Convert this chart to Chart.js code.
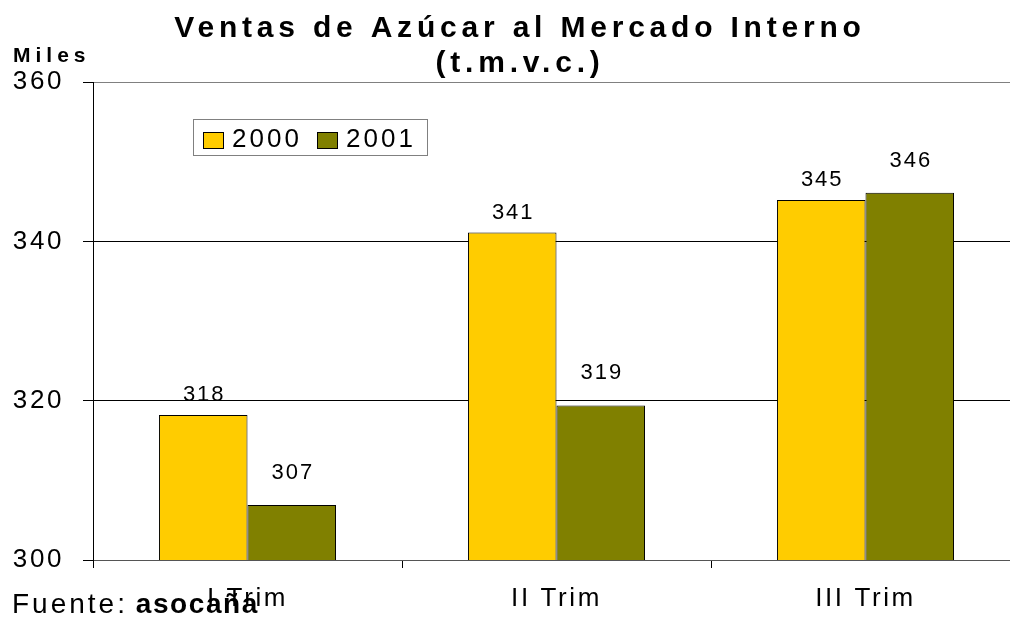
<!DOCTYPE html>
<html>
<head>
<meta charset="utf-8">
<script src="https://cdn.jsdelivr.net/npm/chart.js@4"></script>
<style>
    html, body { margin: 0; padding: 0; background: #fff; overflow: hidden; }
    #wrap { width: 1020px; height: 618px; }
</style>
</head>
<body>
<div id="wrap"><canvas id="ventasChart" width="1020" height="618"></canvas></div>
<script>
// --- data ---
const trimestres = ['I Trim', 'II Trim', 'III Trim'];
const ventas2000 = [318.2, 341.1, 345.2];
const ventas2001 = [306.9, 319.4, 346.1];
const series = ['2000', '2001'];
const yTicks = [300, 320, 340, 360];

const FONT = '"Liberation Sans", Arial, sans-serif';
const AMARILLO = '#FFCC00';
const OLIVA = '#808000';

// title, "Miles", legend and "Fuente" drawn by hand (letter spaced like the original)
const textos = {
    id: 'textos',
    beforeDraw(chart) {
        chart.ctx.letterSpacing = '2.6px';
    },
    afterDraw(chart) {
        const ctx = chart.ctx;
        ctx.save();
        ctx.fillStyle = '#000';
        ctx.textBaseline = 'alphabetic';

        ctx.font = 'bold 30px ' + FONT;
        ctx.letterSpacing = '4.8px';
        ctx.textAlign = 'center';
        ctx.fillText('Ventas de Azúcar al Mercado Interno', 520, 37);
        ctx.fillText('(t.m.v.c.)', 520, 72);

        ctx.textAlign = 'left';
        ctx.font = 'bold 21px ' + FONT;
        ctx.letterSpacing = '5px';
        ctx.fillText('Miles', 13, 62);

        // Fuente
        ctx.font = '28px ' + FONT;
        ctx.letterSpacing = '3px';
        ctx.fillText('Fuente: ', 12, 613);
        const w = ctx.measureText('Fuente: ').width;
        ctx.font = 'bold 28px ' + FONT;
        ctx.letterSpacing = '1.6px';
        ctx.fillText('asocaña', 12 + w - 3, 613);

        // legend box
        ctx.strokeStyle = '#808080';
        ctx.lineWidth = 1;
        ctx.fillStyle = '#fff';
        ctx.fillRect(193.5, 119.5, 234, 36);
        ctx.strokeRect(193.5, 119.5, 234, 36);
        const swX = [203, 317];
        chart.data.datasets.forEach((ds, i) => {
            ctx.fillStyle = ds.backgroundColor;
            ctx.fillRect(swX[i] + 0.5, 132.5, 20, 16);
            ctx.strokeStyle = '#000';
            ctx.strokeRect(swX[i] + 0.5, 132.5, 20, 16);
            ctx.fillStyle = '#000';
            ctx.font = '26px ' + FONT;
            ctx.letterSpacing = '3px';
            ctx.fillText(ds.label, swX[i] + 29, 147);
        });
        ctx.restore();
    }
};

// value labels over the bars
const valores = {
    id: 'valores',
    afterDatasetsDraw(chart) {
        const ctx = chart.ctx;
        const lift = [14, 26];
        ctx.save();
        ctx.font = '22px ' + FONT;
        ctx.letterSpacing = '2px';
        ctx.fillStyle = '#000';
        ctx.textAlign = 'center';
        ctx.textBaseline = 'alphabetic';
        chart.data.datasets.forEach((ds, i) => {
            chart.getDatasetMeta(i).data.forEach((bar, j) => {
                ctx.fillText(String(Math.round(ds.data[j])), bar.x + 1, bar.y - lift[i]);
            });
        });
        ctx.restore();
        ctx.letterSpacing = '2.6px';
    }
};

const ctxVentas = document.getElementById('ventasChart');
new Chart(ctxVentas, {
    type: 'bar',
    data: {
        labels: trimestres,
        datasets: [{
            label: series[0],
            data: ventas2000,
            backgroundColor: AMARILLO,
            borderColor: '#000',
            borderWidth: 1
        }, {
            label: series[1],
            data: ventas2001,
            backgroundColor: OLIVA,
            borderColor: '#000',
            borderWidth: 1
        }]
    },
    options: {
        responsive: false,
        animation: false,
        devicePixelRatio: 1,
        layout: { padding: { top: 82, left: 0, right: 0, bottom: 0 } },
        plugins: {
            legend: { display: false },
            title: { display: false },
            tooltip: { enabled: false }
        },
        datasets: {
            bar: { categoryPercentage: 0.573, barPercentage: 1 }
        },
        scales: {
            x: {
                afterFit(scale) { scale.height = 58; },
                grid: {
                    offset: true,
                    drawOnChartArea: false,
                    drawTicks: true,
                    tickLength: 8,
                    color: '#000'
                },
                border: { color: '#555', width: 1 },
                ticks: {
                    color: '#000',
                    padding: 15,
                    font: { family: FONT, size: 26 }
                }
            },
            y: {
                min: yTicks[0],
                max: yTicks[yTicks.length - 1],
                afterFit(scale) { scale.width = 93; },
                afterBuildTicks(scale) { scale.ticks = yTicks.map(v => ({ value: v })); },
                grid: {
                    color: (c) => c.tick && c.tick.value === 360 ? '#808080' : (c.tick && c.tick.value === 300 ? '#555' : '#000'),
                    tickColor: '#000',
                    tickLength: 10
                },
                border: { color: '#000', width: 1 },
                ticks: {
                    color: '#000',
                    padding: 19,
                    font: { family: FONT, size: 26 }
                }
            }
        }
    },
    plugins: [textos, valores]
});
</script>
</body>
</html>
